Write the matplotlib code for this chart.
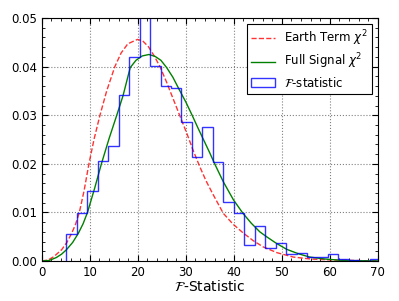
import numpy as np
import matplotlib
matplotlib.use("Agg")
import matplotlib.pyplot as plt
from matplotlib.ticker import MultipleLocator

# histogram of F-statistic (normalised), bin edges
bin_start = 5.1
bin_width = 2.18
hist_heights = [0.0055, 0.0098, 0.0143, 0.0206, 0.0236, 0.0342, 0.0420, 0.0520,
                0.0401, 0.0360, 0.0357, 0.0287, 0.0213, 0.0276, 0.0203, 0.0121,
                0.0098, 0.0032, 0.0073, 0.0027, 0.0036, 0.0014, 0.0017, 0.0009,
                0.0009, 0.0014, 0.0005, 0.0002, 0.0000, 0.0005]

# Earth term chi^2 curve
earth_x = [0, 1.3, 2.5, 4.1, 5.2, 6.2, 7.0, 7.8, 8.8, 9.8, 10.9, 12.1, 13.5,
           15.2, 16.5, 17.9, 19.9, 21.0, 22.2, 23.4, 24.6, 25.9, 27.3, 28.9,
           30.3, 31.5, 32.9, 34.2, 35.5, 36.7, 37.8, 39.8, 41.9, 44.0, 46.1,
           49.0, 52.4, 56.0, 60.7, 65.0, 70.0]
earth_y = [0, 0.0002, 0.0009, 0.0023, 0.0038, 0.0057, 0.0075, 0.0100, 0.0145,
           0.0200, 0.0252, 0.0300, 0.0350, 0.0400, 0.0428, 0.0447, 0.0456,
           0.0453, 0.0441, 0.0422, 0.0400, 0.0370, 0.0335, 0.0295, 0.0260,
           0.0228, 0.0194, 0.0165, 0.0140, 0.0118, 0.0098, 0.0076, 0.0058,
           0.0042, 0.0029, 0.0017, 0.0008, 0.0004, 0.0002, 0.0001, 0.0]

# full signal chi^2 curve
full_x = [0, 1.5, 3.0, 4.1, 5.1, 6.4, 7.6, 8.6, 9.5, 11.0, 12.4, 14.0, 15.6,
          16.9, 18.4, 19.6, 20.9, 22.3, 23.6, 24.8, 26.0, 27.3, 28.6, 30.0,
          31.3, 32.6, 33.9, 35.0, 36.0, 37.8, 39.9, 41.9, 43.6, 45.4, 46.8,
          48.9, 51.0, 53.4, 55.8, 59.0, 62.8, 66.0, 70.0]
full_y = [0, 0.0001, 0.0007, 0.0014, 0.0023, 0.0038, 0.0057, 0.0077, 0.0100,
          0.0150, 0.0200, 0.0252, 0.0300, 0.0340, 0.0398, 0.0413, 0.0422,
          0.0425, 0.0421, 0.0413, 0.0398, 0.0378, 0.0353, 0.0327, 0.0300,
          0.0272, 0.0245, 0.0222, 0.0200, 0.0163, 0.0126, 0.0098, 0.0078,
          0.0060, 0.0050, 0.0036, 0.0024, 0.0015, 0.0008, 0.0004, 0.0001,
          0.00005, 0.0]

edges = bin_start + bin_width * np.arange(len(hist_heights) + 1)

plt.rcParams['font.size'] = 8.5
fig = plt.figure(figsize=(3.99, 3.01), dpi=100)
ax = fig.add_axes([0.105, 0.133, 0.842, 0.807])

ax.plot(earth_x, earth_y, '--', color='red', lw=1, alpha=0.8, label=r'Earth Term $\chi^2$')
ax.plot(full_x, full_y, '-', color='green', lw=1, label=r'Full Signal $\chi^2$')
ax.hist(edges[:-1], bins=edges, weights=hist_heights, histtype='step',
        color='blue', lw=1, alpha=0.8, label=r'$\mathcal{F}$-statistic')

ax.set_xlim(0, 70)
ax.set_ylim(0, 0.05)
ax.xaxis.set_major_locator(MultipleLocator(10))
ax.xaxis.set_minor_locator(MultipleLocator(2))
ax.yaxis.set_major_locator(MultipleLocator(0.01))
ax.yaxis.set_minor_locator(MultipleLocator(0.002))
ax.yaxis.set_major_formatter(matplotlib.ticker.FormatStrFormatter('%.2f'))
ax.tick_params(which='both', direction='in', top=True, right=True)
ax.tick_params(which='major', length=4)
ax.tick_params(which='minor', length=2)
ax.grid(True, which='major', linestyle=':', color='gray', lw=0.8)
ax.set_xlabel(r'$\mathcal{F}$-Statistic', fontsize=10, labelpad=0)

leg = ax.legend(loc='upper right', fancybox=False, edgecolor='black', framealpha=1,
                handlelength=2.0, labelspacing=0.35, borderpad=0.35,
                borderaxespad=0.5)
leg.get_frame().set_linewidth(0.8)

fig.savefig('out.png', dpi=100)
